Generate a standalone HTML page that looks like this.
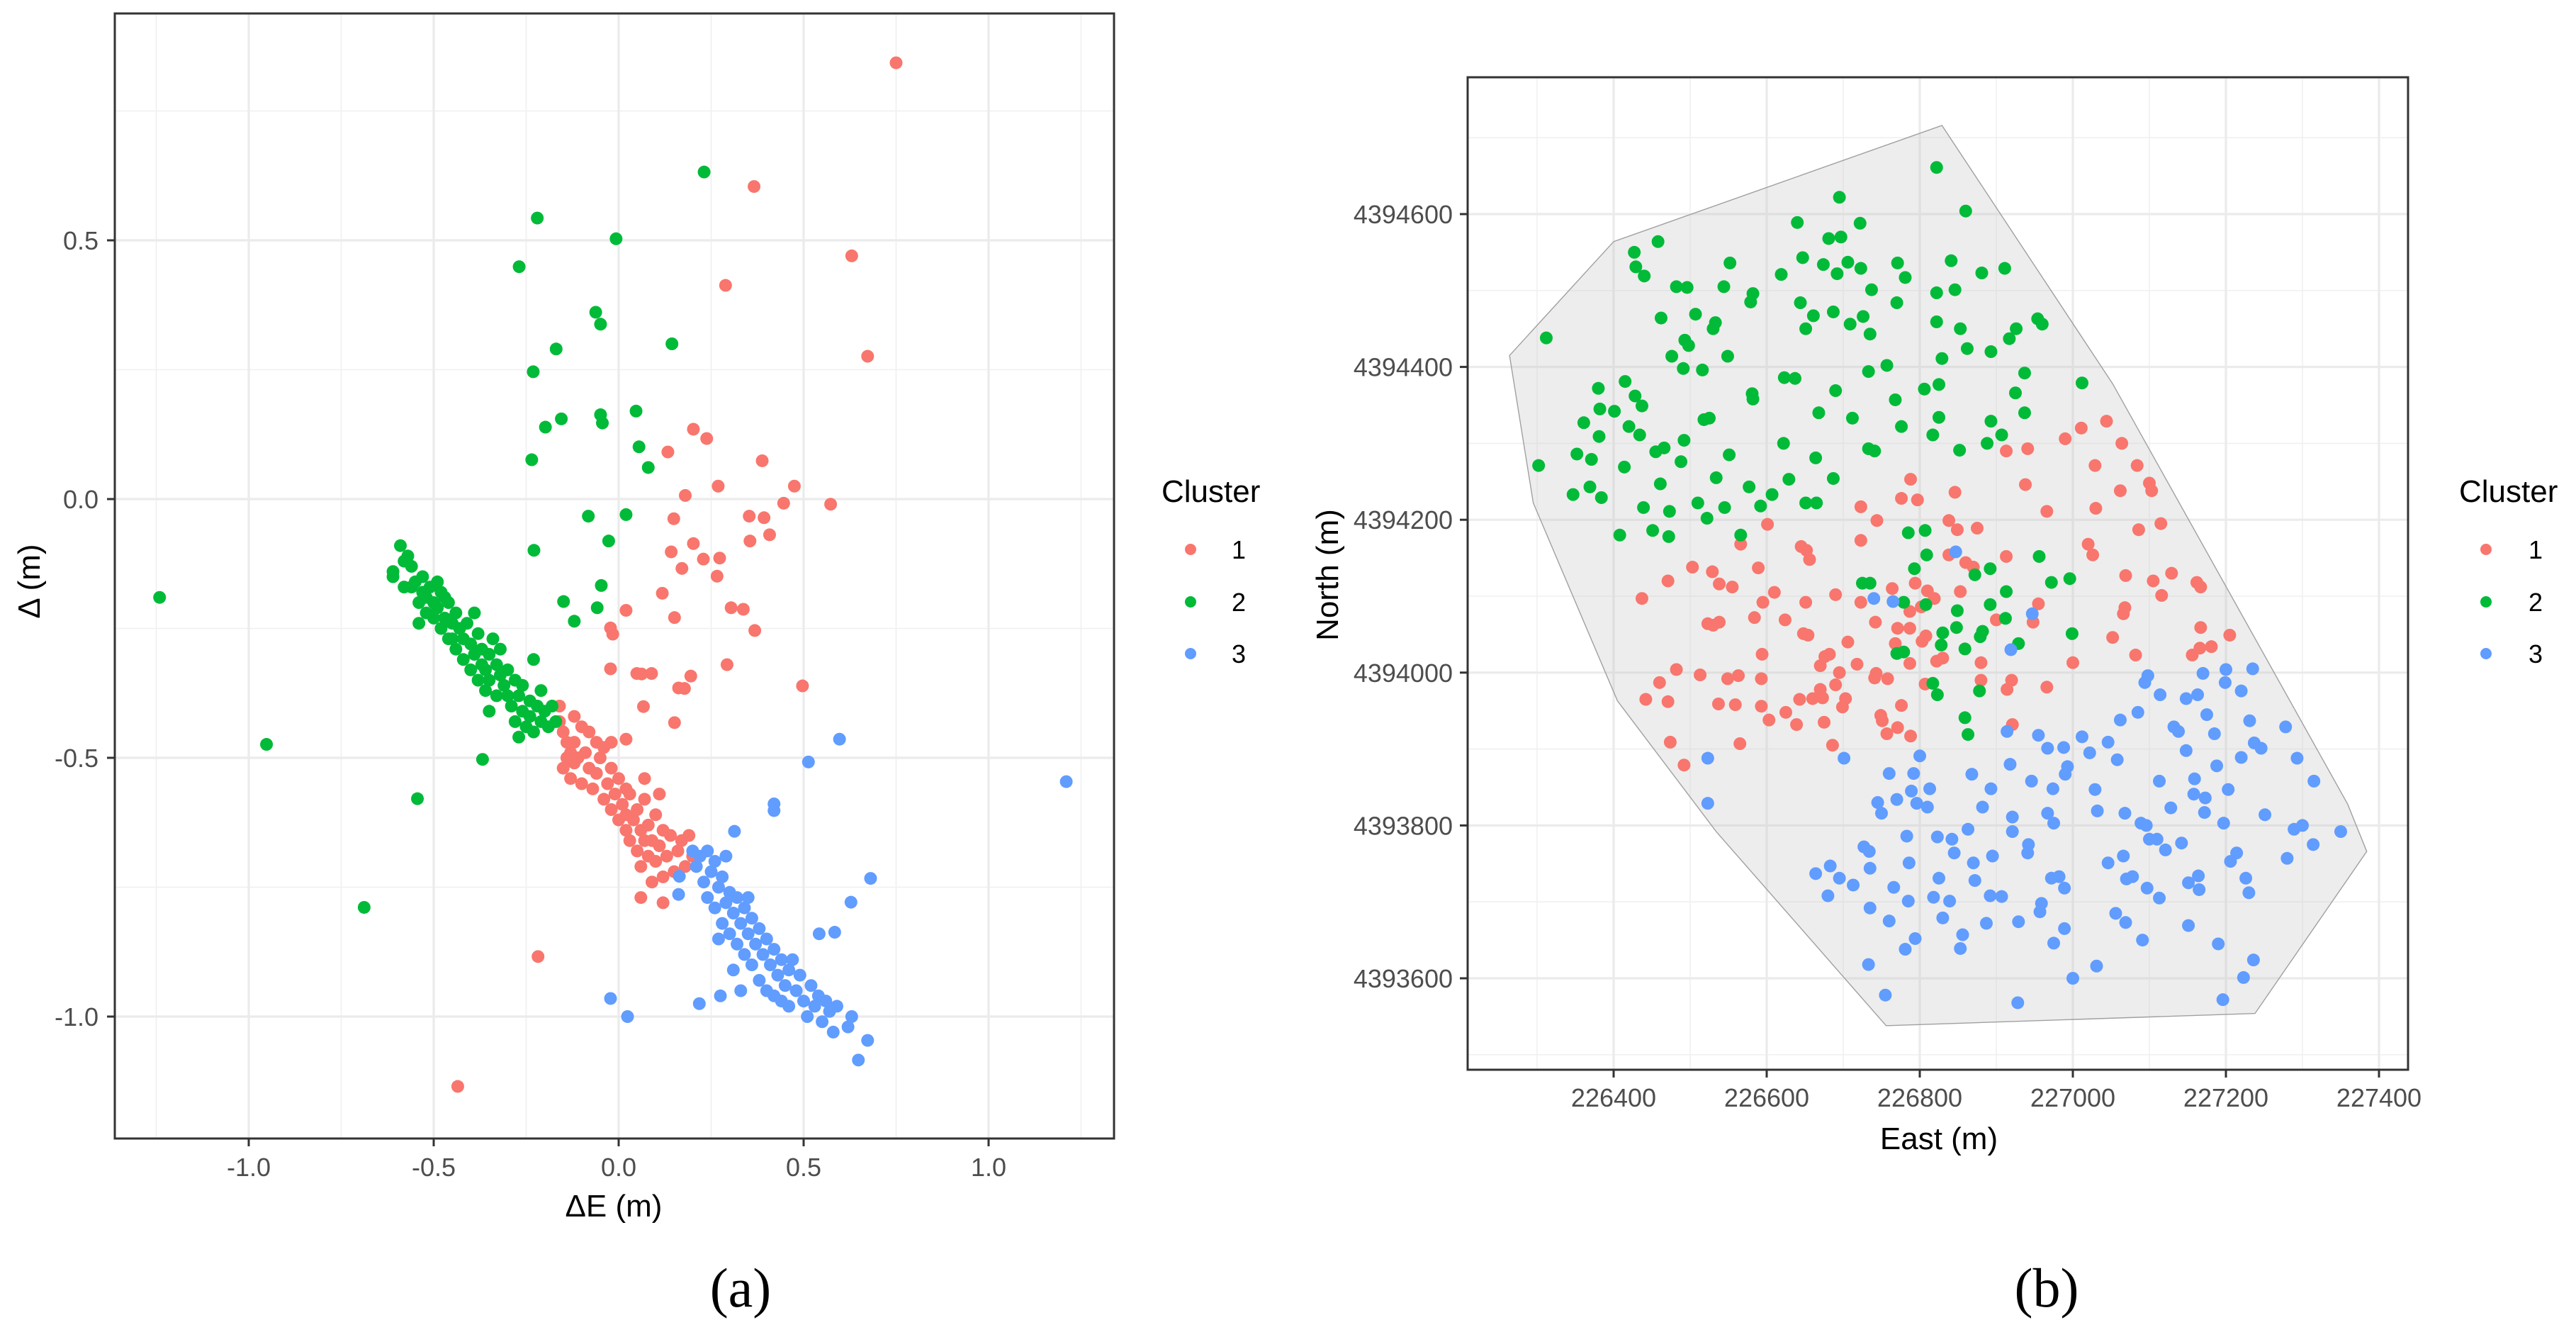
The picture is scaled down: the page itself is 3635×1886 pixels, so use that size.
<!DOCTYPE html>
<html><head><meta charset="utf-8"><style>
html,body{margin:0;padding:0;background:#fff;}
svg{display:block;font-family:"Liberation Sans",Arial,sans-serif;}
</style></head><body>
<svg id="fig" width="3635" height="1886" viewBox="0 0 3635 1886" xmlns="http://www.w3.org/2000/svg">
<rect x="0" y="0" width="3635" height="1886" fill="#fff"/>
<g id="pa"></g>
<g id="pb"></g>
</svg>
<script>
// ---------- Panel (a) data ----------
const aXTicks = [-1.0, -0.5, 0.0, 0.5, 1.0];
const aXTickLabels = ["-1.0","-0.5","0.0","0.5","1.0"];
const aYTicks = [0.5, 0.0, -0.5, -1.0];
const aYTickLabels = ["0.5","0.0","-0.5","-1.0"];
const aXMinor = [-1.25,-0.75,-0.25,0.25,0.75,1.25];
const aYMinor = [0.75,0.25,-0.25,-0.75];
const aCluster1 = [[0.750,0.843],[0.366,0.604],[0.630,0.470],[0.289,0.413],[0.673,0.276],[0.202,0.135],[0.238,0.117],[0.133,0.091],[0.388,0.074],[0.269,0.025],[0.475,0.025],[0.180,0.007],[0.446,-0.008],[0.573,-0.010],[0.353,-0.033],[0.393,-0.036],[0.149,-0.038],[0.408,-0.069],[0.355,-0.081],[0.202,-0.086],[0.142,-0.102],[0.229,-0.116],[0.273,-0.114],[0.171,-0.134],[0.266,-0.149],[0.118,-0.182],[0.020,-0.215],[0.304,-0.210],[0.337,-0.213],[0.151,-0.229],[-0.022,-0.249],[-0.016,-0.261],[0.368,-0.254],[-0.022,-0.328],[0.293,-0.320],[0.049,-0.337],[0.062,-0.338],[0.089,-0.337],[0.195,-0.342],[0.162,-0.365],[0.178,-0.366],[0.497,-0.361],[0.067,-0.401],[0.151,-0.432],[0.020,-0.464],[-0.218,-0.884],[-0.435,-1.135],
[-0.16,-0.40],[-0.16,-0.43],[-0.15,-0.45],[-0.14,-0.47],[-0.15,-0.52],[-0.14,-0.50],[-0.13,-0.49],[-0.12,-0.42],[-0.12,-0.47],[-0.13,-0.54],[-0.12,-0.51],[-0.11,-0.50],[-0.10,-0.55],[-0.10,-0.44],[-0.09,-0.49],[-0.08,-0.45],[-0.08,-0.52],[-0.07,-0.56],[-0.06,-0.47],[-0.06,-0.53],[-0.05,-0.50],[-0.04,-0.48],[-0.04,-0.58],[-0.03,-0.55],[-0.02,-0.60],[-0.02,-0.52],[-0.01,-0.57],[0.00,-0.62],[0.00,-0.54],[0.01,-0.59],[0.02,-0.61],[0.02,-0.64],[0.03,-0.57],[0.03,-0.66],[0.04,-0.62],[0.05,-0.60],[0.05,-0.68],[0.06,-0.64],[0.06,-0.71],[0.07,-0.58],[0.07,-0.66],[0.08,-0.63],[0.08,-0.69],[0.09,-0.66],[0.09,-0.74],[0.10,-0.61],[0.10,-0.70],[0.11,-0.67],[0.12,-0.64],[0.12,-0.73],[0.13,-0.69],[0.14,-0.65],[0.15,-0.72],[0.16,-0.68],[0.17,-0.66],[0.18,-0.71],[0.19,-0.65],[0.20,-0.69],[0.07,-0.54],[0.11,-0.57],[0.06,-0.77],[0.12,-0.78],[-0.02,-0.47],[0.02,-0.56]];
const aCluster2 = [[-1.241,-0.19],[-0.952,-0.474],[-0.688,-0.789],[-0.544,-0.579],[-0.368,-0.503],[-0.22,0.543],[0.231,0.632],[-0.007,0.503],[-0.269,0.449],[-0.062,0.361],[-0.049,0.338],[0.144,0.300],[-0.169,0.290],[-0.231,0.246],[0.047,0.170],[-0.049,0.163],[-0.044,0.147],[-0.155,0.155],[-0.198,0.139],[0.055,0.101],[0.080,0.061],[-0.235,0.076],[0.020,-0.030],[-0.082,-0.033],[-0.027,-0.081],[-0.229,-0.099],[-0.047,-0.167],[-0.149,-0.198],[-0.058,-0.210],[-0.120,-0.236],
[-0.61,-0.14],[-0.61,-0.15],[-0.59,-0.09],[-0.58,-0.12],[-0.58,-0.17],[-0.57,-0.11],[-0.56,-0.13],[-0.56,-0.17],[-0.55,-0.16],[-0.54,-0.20],[-0.54,-0.24],[-0.53,-0.18],[-0.53,-0.15],[-0.52,-0.19],[-0.52,-0.22],[-0.51,-0.17],[-0.50,-0.20],[-0.50,-0.23],[-0.49,-0.16],[-0.49,-0.21],[-0.48,-0.25],[-0.47,-0.19],[-0.47,-0.23],[-0.46,-0.20],[-0.46,-0.27],[-0.45,-0.24],[-0.44,-0.22],[-0.44,-0.29],[-0.43,-0.25],[-0.42,-0.27],[-0.42,-0.31],[-0.41,-0.24],[-0.40,-0.28],[-0.40,-0.33],[-0.39,-0.30],[-0.38,-0.26],[-0.38,-0.35],[-0.37,-0.29],[-0.37,-0.32],[-0.36,-0.33],[-0.36,-0.37],[-0.35,-0.30],[-0.35,-0.35],[-0.34,-0.27],[-0.33,-0.32],[-0.33,-0.38],[-0.32,-0.34],[-0.32,-0.29],[-0.31,-0.36],[-0.30,-0.38],[-0.30,-0.33],[-0.29,-0.40],[-0.28,-0.35],[-0.28,-0.43],[-0.27,-0.38],[-0.26,-0.41],[-0.26,-0.36],[-0.25,-0.44],[-0.24,-0.39],[-0.24,-0.42],[-0.23,-0.31],[-0.23,-0.45],[-0.22,-0.40],[-0.21,-0.43],[-0.21,-0.37],[-0.20,-0.41],[-0.19,-0.44],[-0.18,-0.40],[-0.17,-0.43],[-0.48,-0.18],[-0.45,-0.27],[-0.39,-0.22],[-0.27,-0.46],[-0.35,-0.41]];
const aCluster3 = [[1.210,-0.546],[0.597,-0.464],[0.513,-0.508],[0.420,-0.589],[0.420,-0.602],[0.313,-0.642],[0.681,-0.733],[0.628,-0.779],[0.584,-0.837],[0.542,-0.840],[-0.022,-0.965],[0.024,-1.000],[0.218,-0.975],[0.275,-0.960],[0.673,-1.046],[0.648,-1.084],[0.162,-0.764],[0.164,-0.729],
[0.20,-0.68],[0.21,-0.71],[0.22,-0.69],[0.23,-0.74],[0.24,-0.68],[0.24,-0.77],[0.25,-0.72],[0.26,-0.70],[0.26,-0.79],[0.27,-0.75],[0.28,-0.73],[0.28,-0.82],[0.29,-0.78],[0.30,-0.76],[0.30,-0.84],[0.31,-0.80],[0.32,-0.77],[0.32,-0.86],[0.33,-0.82],[0.34,-0.79],[0.34,-0.88],[0.35,-0.84],[0.36,-0.81],[0.36,-0.90],[0.37,-0.86],[0.38,-0.83],[0.38,-0.93],[0.39,-0.88],[0.40,-0.85],[0.40,-0.95],[0.41,-0.90],[0.42,-0.87],[0.42,-0.96],[0.43,-0.92],[0.44,-0.89],[0.45,-0.94],[0.46,-0.91],[0.46,-0.98],[0.47,-0.89],[0.48,-0.95],[0.49,-0.92],[0.50,-0.97],[0.51,-1.00],[0.52,-0.94],[0.53,-0.98],[0.54,-0.96],[0.55,-1.01],[0.56,-0.97],[0.57,-0.99],[0.58,-1.03],[0.59,-0.98],[0.62,-1.02],[0.63,-1.00],[0.33,-0.95],[0.29,-0.69],[0.35,-0.77],[0.44,-0.97],[0.27,-0.85],[0.31,-0.91]];

// ---------- Panel (b) data ----------
const bXTicks = [226400,226600,226800,227000,227200,227400];
const bXTickLabels = ["226400","226600","226800","227000","227200","227400"];
const bYTicks = [4394600,4394400,4394200,4394000,4393800,4393600];
const bYTickLabels = ["4394600","4394400","4394200","4394000","4393800","4393600"];
const bXMinor = [226300,226500,226700,226900,227100,227300];
const bYMinor = [4394700,4394500,4394300,4394100,4393900,4393700,4393500];
const bHull = [[226829,4394716],[226400,4394564],[226264,4394415],[226295,4394222],[226405,4393963],[226534,4393792],[226756,4393538],[227238,4393554],[227384,4393766],[227359,4393828],[227052,4394378]];
const bCluster2 = [[226822,4394661],[226695,4394622],[226860,4394604],[226640,4394589],[226722,4394588],[226681,4394568],[226697,4394570],[226458,4394564],[226427,4394550],[226647,4394543],[226552,4394536],[226771,4394536],[226841,4394539],[226429,4394531],[226706,4394537],[226674,4394534],[226723,4394529],[226440,4394519],[226619,4394521],[226781,4394517],[226881,4394523],[226911,4394529],[226692,4394522],[226482,4394505],[226496,4394504],[226544,4394505],[226582,4394496],[226846,4394501],[226822,4394497],[226737,4394501],[226579,4394485],[226644,4394484],[226770,4394484],[226462,4394464],[226507,4394469],[226661,4394467],[226687,4394472],[226726,4394466],[226822,4394459],[226533,4394458],[226530,4394450],[226651,4394450],[226709,4394456],[226853,4394450],[226926,4394450],[226954,4394463],[226960,4394456],[226735,4394443],[226493,4394435],[226498,4394428],[226917,4394437],[226476,4394414],[226549,4394414],[226829,4394411],[226862,4394424],[226893,4394420],[226491,4394398],[226516,4394396],[226757,4394402],[226733,4394394],[226623,4394386],[226637,4394385],[226937,4394392],[227012,4394379],[226415,4394381],[226380,4394372],[226428,4394362],[226581,4394365],[226582,4394358],[226690,4394369],[226768,4394357],[226806,4394371],[226825,4394377],[226925,4394366],[226382,4394345],[226401,4394342],[226437,4394349],[226361,4394327],[226381,4394309],[226420,4394322],[226434,4394311],[226518,4394331],[226525,4394333],[226668,4394340],[226712,4394333],[226776,4394322],[226825,4394334],[226893,4394329],[226937,4394340],[226907,4394311],[226817,4394311],[226492,4394304],[226622,4394300],[226733,4394293],[226741,4394290],[226852,4394291],[226888,4394300],[226352,4394286],[226371,4394279],[226455,4394289],[226466,4394294],[226488,4394276],[226551,4394285],[226664,4394281],[226302,4394271],[226414,4394269],[226534,4394255],[226629,4394253],[226687,4394254],[226461,4394247],[226577,4394243],[226369,4394243],[226347,4394233],[226384,4394229],[226510,4394222],[226607,4394233],[226651,4394222],[226665,4394222],[226592,4394218],[226439,4394216],[226473,4394211],[226545,4394216],[226522,4394202],[226451,4394186],[226408,4394180],[226472,4394178],[226566,4394180],[226785,4394183],[226807,4394186],[226809,4394154],[226793,4394136],[226892,4394136],[226956,4394152],[226872,4394128],[226725,4394117],[226735,4394117],[226913,4394106],[226972,4394118],[226996,4394123],[226779,4394092],[226808,4394089],[226849,4394081],[226892,4394089],[226912,4394071],[226882,4394054],[226848,4394059],[226830,4394052],[226879,4394047],[226999,4394051],[226929,4394038],[226828,4394036],[226779,4394027],[226770,4394025],[226859,4394031],[226817,4393986],[226823,4393971],[226878,4393976],[226859,4393941],[226863,4393919],[226312,4394438]];
const bCluster1 = [[226788,4394253],[226776,4394228],[226797,4394226],[226846,4394236],[226913,4394290],[226941,4394293],[226990,4394306],[227011,4394320],[227044,4394329],[227064,4394300],[227029,4394271],[227084,4394271],[226938,4394246],[227062,4394238],[227100,4394248],[227103,4394238],[227030,4394215],[226966,4394211],[227115,4394195],[227086,4394187],[226723,4394217],[226744,4394199],[226601,4394194],[226838,4394199],[226849,4394187],[226875,4394189],[226723,4394173],[226566,4394168],[226645,4394165],[226652,4394160],[227020,4394168],[227026,4394154],[226838,4394154],[226913,4394152],[226656,4394148],[226860,4394144],[226870,4394138],[226589,4394137],[226529,4394132],[226503,4394138],[227069,4394127],[227129,4394130],[227162,4394118],[227167,4394112],[226471,4394120],[226538,4394116],[226555,4394112],[226610,4394105],[227105,4394120],[227116,4394101],[226690,4394102],[226723,4394092],[226764,4394110],[226794,4394117],[226810,4394107],[226819,4394097],[226853,4394106],[226787,4394080],[226802,4394086],[226651,4394092],[226595,4394092],[226584,4394072],[226624,4394069],[226437,4394097],[227068,4394085],[227066,4394077],[226955,4394090],[226948,4394066],[226900,4394069],[226742,4394066],[226771,4394058],[226787,4394058],[226808,4394048],[227205,4394049],[227167,4394059],[227052,4394046],[226523,4394064],[226530,4394062],[226538,4394066],[226648,4394051],[226654,4394049],[226706,4394040],[226768,4394038],[226803,4394041],[227181,4394034],[227166,4394032],[226594,4394024],[226676,4394021],[226682,4394024],[227156,4394023],[227082,4394023],[227000,4394013],[226787,4394012],[226822,4394015],[226830,4394019],[226880,4394013],[226718,4394011],[226482,4394004],[226513,4393997],[226549,4393992],[226563,4393996],[226593,4393992],[226670,4394009],[226695,4394000],[226741,4393993],[226743,4393999],[226758,4393992],[226807,4393985],[226880,4393990],[226920,4393990],[226914,4393978],[226966,4393981],[226460,4393987],[226690,4393984],[226670,4393978],[226643,4393965],[226660,4393966],[226673,4393967],[226703,4393966],[226442,4393965],[226471,4393962],[226537,4393959],[226559,4393958],[226593,4393956],[226699,4393955],[226776,4393957],[226749,4393944],[226751,4393937],[226603,4393938],[226625,4393948],[226639,4393932],[226675,4393935],[226921,4393932],[226771,4393928],[226757,4393920],[226788,4393917],[226474,4393909],[226565,4393907],[226686,4393905],[226492,4393879]];
const bCluster3 = [[226847,4394158],[226740,4394097],[226765,4394093],[226947,4394077],[226919,4394030],[227200,4394004],[227235,4394005],[227170,4393999],[227098,4393996],[227094,4393987],[227199,4393987],[227163,4393971],[227114,4393971],[227148,4393966],[227220,4393976],[227175,4393945],[227085,4393948],[227062,4393938],[227231,4393937],[227132,4393929],[227138,4393923],[227185,4393920],[227278,4393929],[226914,4393923],[226955,4393918],[226967,4393901],[226988,4393902],[227012,4393916],[227046,4393909],[227237,4393908],[227246,4393901],[227148,4393898],[227022,4393895],[227058,4393886],[227220,4393889],[227293,4393888],[226800,4393891],[226701,4393888],[226523,4393888],[226918,4393880],[227188,4393878],[226993,4393877],[226990,4393867],[226868,4393867],[226760,4393868],[226792,4393868],[227159,4393861],[226946,4393858],[227113,4393858],[227315,4393858],[226893,4393848],[226974,4393848],[227029,4393847],[226813,4393848],[226789,4393845],[227158,4393841],[227203,4393847],[227173,4393836],[226745,4393830],[226770,4393834],[226796,4393829],[226810,4393824],[226882,4393824],[226523,4393829],[227128,4393823],[226750,4393816],[226967,4393816],[227032,4393819],[227068,4393816],[227172,4393817],[227251,4393814],[226921,4393811],[227197,4393803],[226975,4393803],[227289,4393795],[227300,4393800],[227350,4393792],[227089,4393803],[227096,4393800],[226921,4393792],[226863,4393795],[226783,4393786],[226823,4393785],[226842,4393782],[227100,4393782],[227110,4393782],[227142,4393777],[227314,4393775],[226727,4393772],[226734,4393766],[226845,4393764],[226942,4393775],[226941,4393764],[227121,4393768],[227214,4393764],[227280,4393757],[227206,4393753],[226786,4393751],[226870,4393751],[226735,4393744],[226895,4393760],[227046,4393751],[227066,4393760],[226664,4393737],[226683,4393747],[226695,4393731],[226713,4393722],[226825,4393731],[226872,4393728],[226972,4393731],[226982,4393733],[227070,4393730],[227078,4393733],[227164,4393734],[227151,4393725],[227226,4393731],[227097,4393718],[226766,4393719],[226989,4393718],[227165,4393716],[226680,4393708],[226785,4393701],[226818,4393706],[226839,4393701],[226892,4393708],[226907,4393707],[227113,4393705],[227230,4393712],[226959,4393698],[226735,4393692],[226957,4393687],[227056,4393685],[226830,4393679],[226760,4393675],[227069,4393673],[226887,4393672],[226929,4393674],[227151,4393669],[226989,4393665],[226856,4393657],[226794,4393652],[227091,4393650],[226975,4393646],[227190,4393645],[226781,4393638],[226853,4393639],[226733,4393618],[227236,4393624],[227031,4393616],[227223,4393601],[227000,4393600],[226755,4393578],[227196,4393572],[226928,4393568]];
const legendLabels = ["1","2","3"];

const NS = "http://www.w3.org/2000/svg";
const COLORS = ["#F8766D","#00BA38","#619CFF"];
function mk(parent, tag, attrs, text) {
  const el = document.createElementNS(NS, tag);
  for (const k in attrs) el.setAttribute(k, attrs[k]);
  if (text !== undefined) el.textContent = text;
  parent.appendChild(el);
  return el;
}
function linScale(d0, d1, r0, r1) { return v => r0 + (v - d0) * (r1 - r0) / (d1 - d0); }

function drawPanel(g, cfg) {
  const L = cfg.box[0], T = cfg.box[1], R = cfg.box[2], B = cfg.box[3];
  const sx = cfg.sx, sy = cfg.sy;
  const bg = mk(g, "rect", {x:L, y:T, width:R-L, height:B-T, fill:"#fff"});
  
  
  cfg.xMinor.forEach(v => {
    const ln = mk(g, "line", {x1:sx(v), x2:sx(v), y1:T, y2:B, stroke:"#F0F0F0", "stroke-width":1.6});
    
    
  });
  cfg.yMinor.forEach(v => {
    const ln = mk(g, "line", {x1:L, x2:R, y1:sy(v), y2:sy(v), stroke:"#F0F0F0", "stroke-width":1.6});
    
    
  });
  cfg.xTicks.forEach(v => {
    const ln = mk(g, "line", {x1:sx(v), x2:sx(v), y1:T, y2:B, stroke:"#EBEBEB", "stroke-width":3.2});
    
    
  });
  cfg.yTicks.forEach(v => {
    const ln = mk(g, "line", {x1:L, x2:R, y1:sy(v), y2:sy(v), stroke:"#EBEBEB", "stroke-width":3.2});
    
    
  });
  if (cfg.hull) {
    const pts = cfg.hull.map(p => sx(p[0]) + "," + sy(p[1])).join(" ");
    const poly = mk(g, "polygon", {points:pts, fill:"rgba(200,200,200,0.33)", stroke:"#A0A0A0", "stroke-width":1.4});
    
    
  }
  cfg.series.forEach((s, i) => {
    const sg = mk(g, "g", {});
    
    
    s.forEach(p => {
      const c = mk(sg, "circle", {cx:sx(p[0]), cy:sy(p[1]), r:9, fill:COLORS[i]});
      
      
    });
  });
  const border = mk(g, "rect", {x:L, y:T, width:R-L, height:B-T, fill:"none", stroke:"#333", "stroke-width":3});
  
  
  cfg.xTicks.forEach((v, i) => {
    const tk = mk(g, "line", {x1:sx(v), x2:sx(v), y1:B, y2:B+11, stroke:"#333", "stroke-width":3});
    
    
    const tl = mk(g, "text", {x:sx(v), y:cfg.xLabelY, "text-anchor":"middle", "font-size":36, fill:"#4D4D4D"}, cfg.xLabels[i]);
    
    
  });
  cfg.yTicks.forEach((v, i) => {
    const tk = mk(g, "line", {x1:L-11, x2:L, y1:sy(v), y2:sy(v), stroke:"#333", "stroke-width":3});
    
    
    const tl = mk(g, "text", {x:cfg.yLabelX, y:sy(v)+13, "text-anchor":"end", "font-size":36, fill:"#4D4D4D"}, cfg.yLabels[i]);
    
    
  });
  const xt = mk(g, "text", {x:cfg.xTitle[1], y:cfg.xTitle[2], "text-anchor":"middle", "font-size":44, fill:"#000"}, cfg.xTitle[0]);
  
  
  const yt = mk(g, "text", {x:cfg.yTitle[1], y:cfg.yTitle[2], "text-anchor":"middle", "font-size":44, fill:"#000", transform:"rotate(-90 " + cfg.yTitle[1] + " " + cfg.yTitle[2] + ")"}, cfg.yTitle[0]);
  
  
  const lg = mk(g, "g", {});
  
  
  const lt = mk(lg, "text", {x:cfg.legend.x, y:cfg.legend.y, "font-size":44, fill:"#000"}, "Cluster");
  
  
  legendLabels.forEach((lab, i) => {
    const y = cfg.legend.rows[i];
    const d = mk(lg, "circle", {cx:cfg.legend.dotX, cy:y, r:8, fill:COLORS[i]});
    
    
    const t = mk(lg, "text", {x:cfg.legend.textX, y:y+13, "font-size":36, fill:"#000"}, lab);
    
    
  });
  const cap = mk(g, "text", {x:cfg.caption[1], y:cfg.caption[2], "text-anchor":"middle", "font-size":78, fill:"#000", "font-family":"'Liberation Serif', serif"}, cfg.caption[0]);
  
  
}

drawPanel(document.getElementById("pa"), {
  box:[162,19,1572,1606],
  sx: linScale(0, 0.5, 873, 1134),
  sy: linScale(0, -0.5, 704, 1069),
  xTicks:aXTicks, xLabels:aXTickLabels, yTicks:aYTicks, yLabels:aYTickLabels,
  xMinor:aXMinor, yMinor:aYMinor,
  series:[aCluster1, aCluster2, aCluster3],
  xLabelY:1659, yLabelX:139,
  xTitle:["\u0394E (m)", 866, 1716], yTitle:["\u0394 (m)", 56, 820],
  legend:{x:1639, y:708, dotX:1680, textX:1738, rows:[775,849,922]},
  caption:["(a)", 1045, 1843]
});
drawPanel(document.getElementById("pb"), {
  box:[2071,109,3398,1509],
  sx: linScale(226400, 227400, 2277, 3357),
  sy: linScale(4394600, 4393600, 302, 1380),
  xTicks:bXTicks, xLabels:bXTickLabels, yTicks:bYTicks, yLabels:bYTickLabels,
  xMinor:bXMinor, yMinor:bYMinor,
  series:[bCluster1, bCluster2, bCluster3],
  hull:bHull,
  xLabelY:1561, yLabelX:2050,
  xTitle:["East (m)", 2736, 1621], yTitle:["North (m)", 1888, 811],
  legend:{x:3470, y:708, dotX:3508, textX:3568, rows:[775,849,922]},
  caption:["(b)", 2888, 1843]
});
</script>
</body></html>
